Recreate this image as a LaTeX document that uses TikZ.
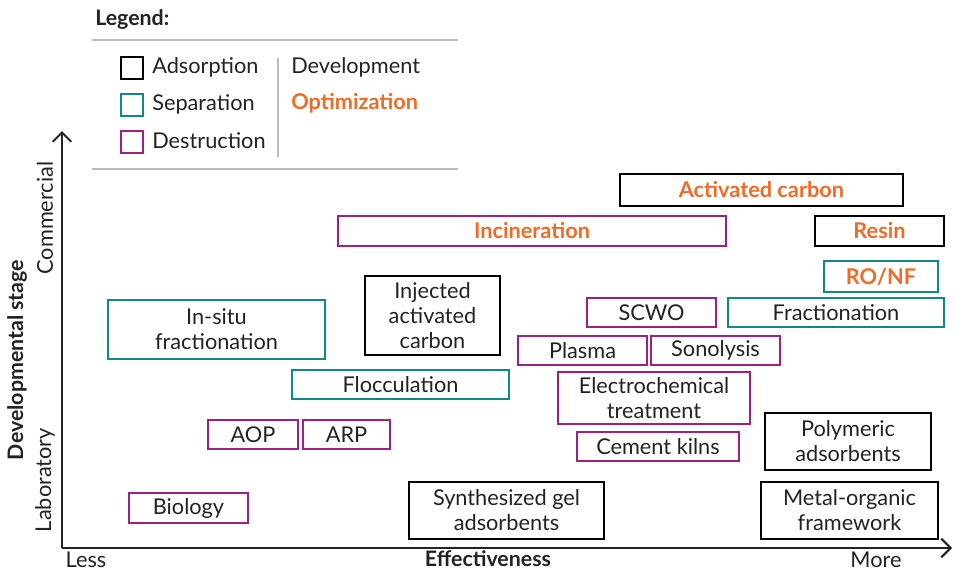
\documentclass[tikz,border=0pt]{standalone}
\usepackage{fontspec}
\setmainfont{Lato}
\usetikzlibrary{arrows.meta}
\definecolor{tealc}{HTML}{0E8A8A}
\definecolor{purp}{HTML}{9E1F85}
\definecolor{orng}{HTML}{F26A25}
\definecolor{ink}{HTML}{222222}
\definecolor{rule}{HTML}{BBBBBB}
\tikzset{
  x=0.75pt, y=-0.75pt,
  base/.style={draw, line width=1.5pt, inner sep=0pt, align=center, text=ink,
    font=\fontsize{16.3}{18.8}\selectfont},
  ads/.style={base, draw=black},
  sep/.style={base, draw=tealc},
  des/.style={base, draw=purp},
  opt/.style={text=orng, font=\fontsize{16.3}{18.8}\selectfont\bfseries},
  lab/.style={text=ink, font=\fontsize{16.3}{18.8}\selectfont, inner sep=0pt},
  axis/.style={line width=1.5pt, ink, -{Straight Barb[length=7pt,width=14pt,line width=1.5pt]}},
  legsq/.style={draw, line width=1.5pt, minimum size=16pt, inner sep=0pt},
}
\newcommand{\bx}[7]{%
  \node[#1, minimum width={(#5-#3)*0.75pt}, minimum height={(#6-#4)*0.75pt}] (#2)
    at ({(#3+#5)/2},{(#4+#6)/2}) {#7};}
\begin{document}
\begin{tikzpicture}
\useasboundingbox (0,0) rectangle (957,571);
% legend
\node[lab, anchor=west, font=\fontsize{16}{18}\selectfont\bfseries] (legtitle) at (95,20) {Legend:};
\draw[rule, line width=0.9pt] (92,40) -- (458,40);
\draw[rule, line width=0.9pt] (92,169) -- (458,169);
\draw[rule, line width=0.9pt] (278,58) -- (278,157);
\node[legsq, draw=black] (sqa) at (132,68) {};
\node[legsq, draw=tealc] (sqs) at (132,105) {};
\node[legsq, draw=purp] (sqd) at (132,142) {};
\node[lab, anchor=west] (la) at (152,67) {Adsorption};
\node[lab, anchor=west] (ls) at (152,104) {Separation};
\node[lab, anchor=west] (ld) at (152,141) {Destruction};
\node[lab, anchor=west] (ldev) at (291,67) {Development};
\node[lab, anchor=west, opt] (lopt) at (291,103) {Optimization};
% axes
\coordinate (O) at (62,548);
\coordinate (ytop) at (62,131);
\coordinate (xend) at (952,548);
\draw[axis] (O) -- (ytop);
\draw[axis] (O) -- (xend);
\node[lab] (less) at (86,560) {Less};
\node[lab, font=\fontsize{16}{18}\selectfont\bfseries] (eff) at (488,559) {Effectiveness};
\node[lab] (more) at (876,560) {More};
\node[lab, rotate=90, font=\fontsize{16}{18}\selectfont\bfseries] (dev) at (17,360) {Developmental stage};
\node[lab, rotate=90] (labo) at (45,480) {Laboratory};
\node[lab, rotate=90] (comm) at (45,218) {Commercial};
% boxes
\bx{ads}{ac}{620}{174}{903}{206}{\textcolor{orng}{\bfseries Activated carbon}}
\bx{des}{inc}{338}{216}{726}{246}{\textcolor{orng}{\bfseries Incineration}}
\bx{ads}{resin}{815}{216}{944}{246}{\textcolor{orng}{\bfseries Resin}}
\bx{sep}{ronf}{824}{261}{938}{292}{\textcolor{orng}{\bfseries RO/NF}}
\bx{des}{scwo}{587}{298}{716}{327}{SCWO}
\bx{sep}{frac}{728}{298}{944}{327}{Fractionation}
\bx{sep}{insitu}{108}{300}{325}{359}{In-situ\\fractionation}
\bx{ads}{iac}{365}{276}{500}{355}{Injected\\activated\\carbon}
\bx{des}{plasma}{518}{336}{647}{365}{Plasma}
\bx{des}{sono}{651}{336}{780}{365}{Sonolysis}
\bx{sep}{floc}{292}{370}{509}{399}{Flocculation}
\bx{des}{elec}{558}{372}{750}{424}{Electrochemical\\treatment}
\bx{des}{aop}{208}{420}{298}{449}{AOP}
\bx{des}{arp}{303}{420}{390}{449}{ARP}
\bx{des}{cement}{577}{432}{739}{461}{Cement kilns}
\bx{ads}{poly}{765}{413}{931}{470}{Polymeric\\adsorbents}
\bx{des}{bio}{129}{493}{248}{523}{Biology}
\bx{ads}{gel}{409}{482}{604}{539}{Synthesized gel\\adsorbents}
\bx{ads}{mof}{761}{482}{938}{539}{Metal-organic\\framework}
\end{tikzpicture}
\end{document}
